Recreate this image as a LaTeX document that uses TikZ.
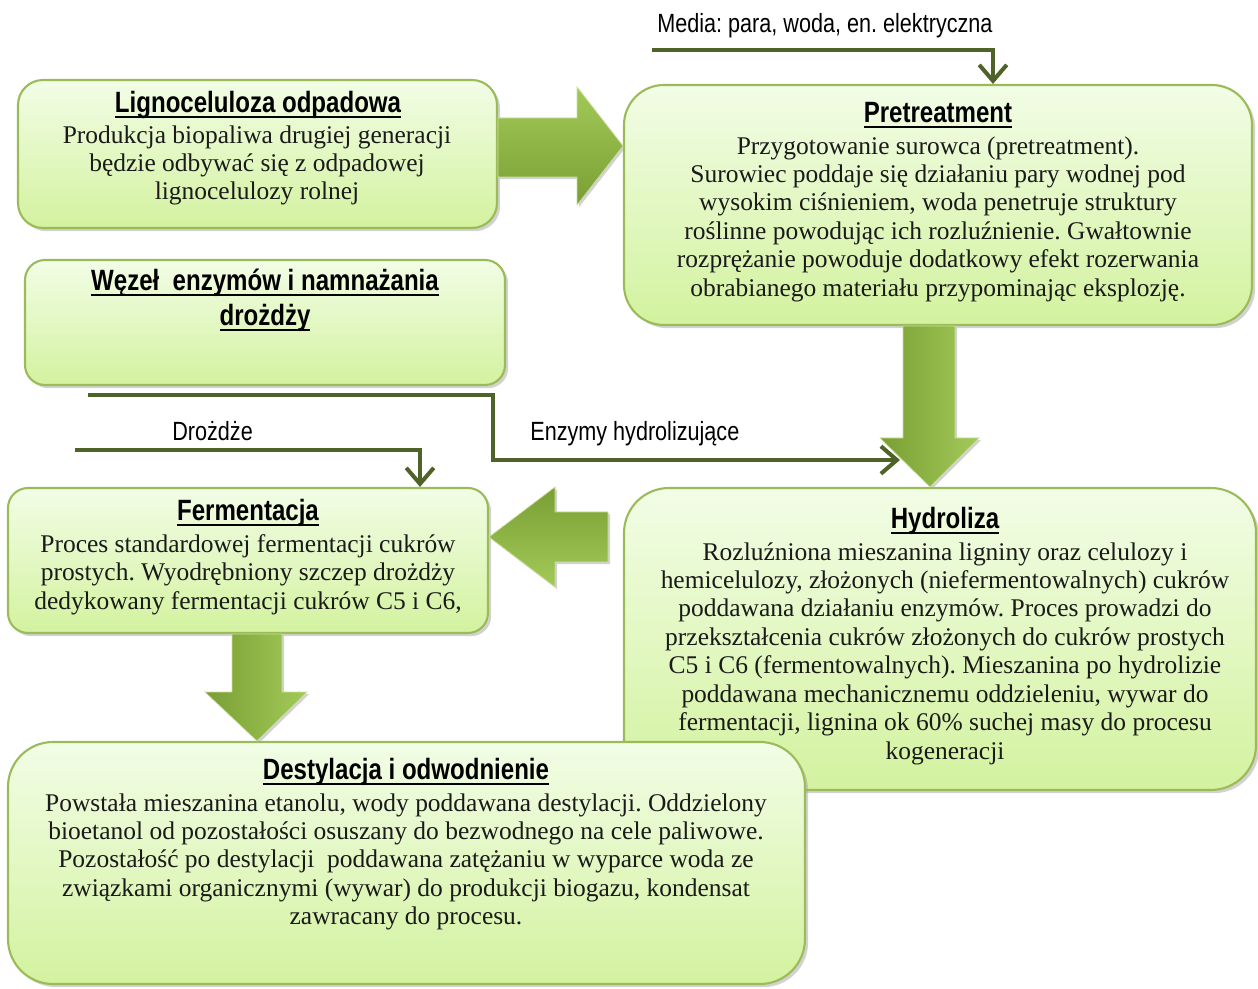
\documentclass[tikz,border=0pt]{standalone}
\usepackage{fontspec}
\setmainfont{Liberation Serif}
\newfontfamily\narrowsf[FakeStretch=0.82]{Liberation Sans}
\usetikzlibrary{arrows.meta, shadows, fit, calc}
\frenchspacing

\newcommand{\titleline}[1]{\leavevmode\setbox0=\hbox{#1}\rlap{\vrule height -2.2pt depth 3.3pt width \wd0}\box0}

\definecolor{boxedge}{HTML}{9BBB59}
\definecolor{boxtop}{HTML}{F2FDE6}
\definecolor{boxbottom}{HTML}{D3F29F}
\definecolor{feedline}{HTML}{4F6228}
\definecolor{fatdark}{HTML}{7A9E34}
\definecolor{fatlight}{HTML}{A2CA58}
\definecolor{bodytext}{HTML}{1A1A1A}

\tikzset{
	stagebox/.style={draw=boxedge, line width=1.2pt, top color=boxtop, bottom color=boxbottom, inner sep=0pt, drop shadow={shadow xshift=1.8pt, shadow yshift=-1.8pt, fill=black!35}},
	stagetitle/.style={font=\narrowsf\bfseries\fontsize{16.7}{20}\selectfont, align=center, inner sep=0pt},
	stagetext/.style={font=\fontsize{14.5}{16.2}\selectfont, text=bodytext, align=center, inner sep=0pt, anchor=north},
	feed/.style={draw=feedline, line width=2.3pt, -{Straight Barb[length=3.2mm, width=5.5mm, line width=2.3pt]}},
	feedlabel/.style={font=\narrowsf\fontsize{15}{17}\selectfont, inner sep=0pt, anchor=west},
	fatarrow/.style={draw=fatlight!60!white, line width=.4pt, drop shadow={shadow xshift=1.2pt, shadow yshift=-1.2pt, fill=black!35}}
}

\begin{document}
\begin{tikzpicture}[x=0.02cm, y=-0.02cm]
	\useasboundingbox (0,0) rectangle (1258,989);

	\node[stagebox, rounded corners=0.5cm, fit={(18,80) (497,228)}] (ligno) {};
	\node[stagetitle] (lignohead) at (258,105) {\titleline{Lignoceluloza odpadowa}};
	\node[stagetext] (lignobody) at (257,125) {Produkcja biopaliwa drugiej generacji\\ będzie odbywać się z odpadowej\\ lignocelulozy rolnej};

	\node[stagebox, rounded corners=0.8cm, fit={(624,85) (1252,325)}] (pretr) {};
	\node[stagetitle] (pretrhead) at (938,115) {\titleline{Pretreatment}};
	\node[stagetext] (pretrbody) at (938,136) {Przygotowanie surowca (pretreatment).\\ Surowiec poddaje się działaniu pary wodnej pod\\ wysokim ciśnieniem, woda penetruje struktury\\ roślinne powodując ich rozluźnienie. Gwałtownie\\ rozprężanie powoduje dodatkowy efekt rozerwania\\ obrabianego materiału przypominając eksplozję.};

	\node[stagebox, rounded corners=0.4cm, fit={(25,260) (505,385)}] (wezel) {};
	\node[stagetitle] (wezelhead) at (265,300) {\titleline{Węzeł\ \ enzymów i namnażania}\\ \titleline{drożdży}};

	\node[stagebox, rounded corners=0.9cm, fit={(624,488) (1256,790)}] (hydro) {};
	\node[stagetitle] (hydrohead) at (945,521) {\titleline{Hydroliza}};
	\node[stagetext] (hydrobody) at (945,542) {Rozluźniona mieszanina ligniny oraz celulozy i\\ hemicelulozy, złożonych (niefermentowalnych) cukrów\\ poddawana działaniu enzymów. Proces prowadzi do\\ przekształcenia cukrów złożonych do cukrów prostych\\ C5 i C6 (fermentowalnych). Mieszanina po hydrolizie\\ poddawana mechanicznemu oddzieleniu, wywar do\\ fermentacji, lignina ok 60\% suchej masy do procesu\\ kogeneracji};

	\node[stagebox, rounded corners=0.4cm, fit={(8,488) (488,633)}] (ferm) {};
	\node[stagetitle] (fermhead) at (248,513) {\titleline{Fermentacja}};
	\node[stagetext] (fermbody) at (248,534) {Proces standardowej fermentacji cukrów\\ prostych. Wyodrębniony szczep drożdży\\ dedykowany fermentacji cukrów C5 i C6,};

	\node[stagebox, rounded corners=0.9cm, fit={(8,742) (805,984)}] (destyl) {};
	\node[stagetitle] (destylhead) at (406,772) {\titleline{Destylacja i odwodnienie}};
	\node[stagetext] (destylbody) at (406,793) {Powstała mieszanina etanolu, wody poddawana destylacji. Oddzielony\\ bioetanol od pozostałości osuszany do bezwodnego na cele paliwowe.\\ Pozostałość po destylacji\ \ poddawana zatężaniu w wyparce woda ze\\ związkami organicznymi (wywar) do produkcji biogazu, kondensat\\ zawracany do procesu.};

	\coordinate (mediain) at (652,50);
	\coordinate (enzout) at (88,395);
	\coordinate (enzin) at (900,460);
	\coordinate (yeastin) at (75,450);
	\draw[feed] (mediain) -| ($(pretr.north)+(55,0)$);
	\draw[feed] (enzout) -| (493,460) -- (enzin);
	\draw[feed] (yeastin) -| ($(ferm.north)+(172,0)$);
	\node[feedlabel] (medialabel) at (657,26) {Media: para, woda, en. elektryczna};
	\node[feedlabel] (enzlabel) at (530,434) {Enzymy hydrolizujące};
	\node[feedlabel] (yeastlabel) at (172,431) {Drożdże};

	\path[fatarrow, top color=fatlight, bottom color=fatdark] (ligno.east |- 0,118) -- (577,118) -- (577,87) -- (pretr.west |- 0,146) -- (577,205) -- (577,177) -- (ligno.east |- 0,177) -- cycle;
	\path[fatarrow, left color=fatdark, right color=fatlight] (903,0 |- pretr.south) -- (955,0 |- pretr.south) -- (955,438) -- (979,438) -- (930,0 |- hydro.north) -- (880,438) -- (903,438) -- cycle;
	\path[fatarrow, top color=fatdark, bottom color=fatlight] (608,512) -- (555,512) -- (555,487) -- (ferm.east |- 0,537) -- (555,587) -- (555,562) -- (608,562) -- cycle;
	\path[fatarrow, left color=fatdark, right color=fatlight] (232,0 |- ferm.south) -- (282,0 |- ferm.south) -- (282,692) -- (307,692) -- (257,0 |- destyl.north) -- (205,692) -- (232,692) -- cycle;
\end{tikzpicture}
\end{document}
